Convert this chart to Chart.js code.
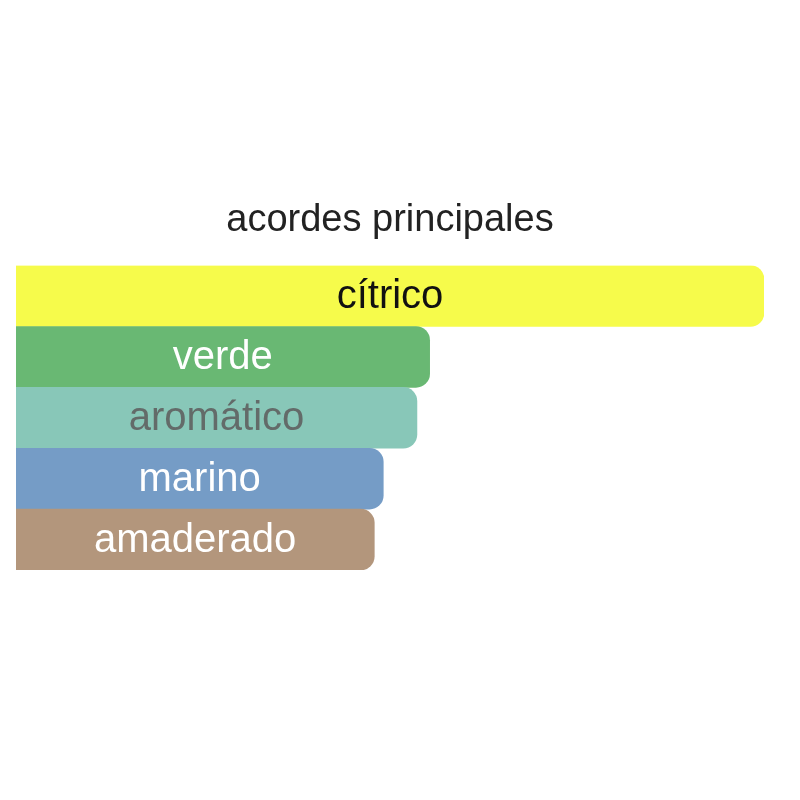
<!DOCTYPE html>
<html>
<head>
<meta charset="utf-8">
<script src="https://cdn.jsdelivr.net/npm/chart.js@4/dist/chart.umd.min.js"></script>
<style>
  html, body { margin: 0; padding: 0; background: #fff; }
  #wrap { width: 800px; height: 800px; }
</style>
</head>
<body>
<div id="wrap"><canvas id="accords"></canvas></div>
<script>
// main accords, strongest first
const accordNames = ["cítrico", "verde", "aromático", "marino", "amaderado"];
const accordValues = [100, 55.3, 53.6, 49.1, 47.9];
const accordColors = ["#F6FB4B", "#69B873", "#88C7B8", "#759CC6", "#B3967C"];
const labelColors = ["#111111", "#FFFFFF", "#636B69", "#FFFFFF", "#FFFFFF"];

// writes each accord name in the middle of its bar
const barLabels = {
    id: 'barLabels',
    afterDatasetsDraw(chart) {
        const ctx = chart.ctx;
        const meta = chart.getDatasetMeta(0);
        ctx.save();
        ctx.font = '40px "Liberation Sans", Arial, sans-serif';
        ctx.textAlign = 'center';
        ctx.textBaseline = 'middle';
        meta.data.forEach((bar, i) => {
            const p = bar.getProps(['x', 'y', 'base'], true);
            ctx.fillStyle = labelColors[i];
            ctx.fillText(accordNames[i], (p.x + p.base) / 2, p.y + 1);
        });
        ctx.restore();
    }
};

new Chart(document.getElementById('accords'), {
    type: 'bar',
    data: {
        labels: accordNames,
        datasets: [{
            data: accordValues,
            backgroundColor: accordColors,
            borderWidth: 0,
            borderRadius: 14,
            borderSkipped: 'start',
            barPercentage: 1,
            categoryPercentage: 1
        }]
    },
    options: {
        indexAxis: 'y',
        responsive: true,
        maintainAspectRatio: false,
        animation: false,
        layout: { padding: { top: 198, bottom: 230, left: 16, right: 36 } },
        scales: {
            x: { display: false, min: 0, max: 100 },
            y: { display: false }
        },
        plugins: {
            legend: { display: false },
            tooltip: { enabled: false },
            title: {
                display: true,
                text: 'acordes principales',
                color: '#222222',
                font: { family: '"Liberation Sans", Arial, sans-serif', size: 38, weight: 'normal' },
                padding: { top: 0, bottom: 22 }
            }
        }
    },
    plugins: [barLabels]
});
</script>
</body>
</html>
